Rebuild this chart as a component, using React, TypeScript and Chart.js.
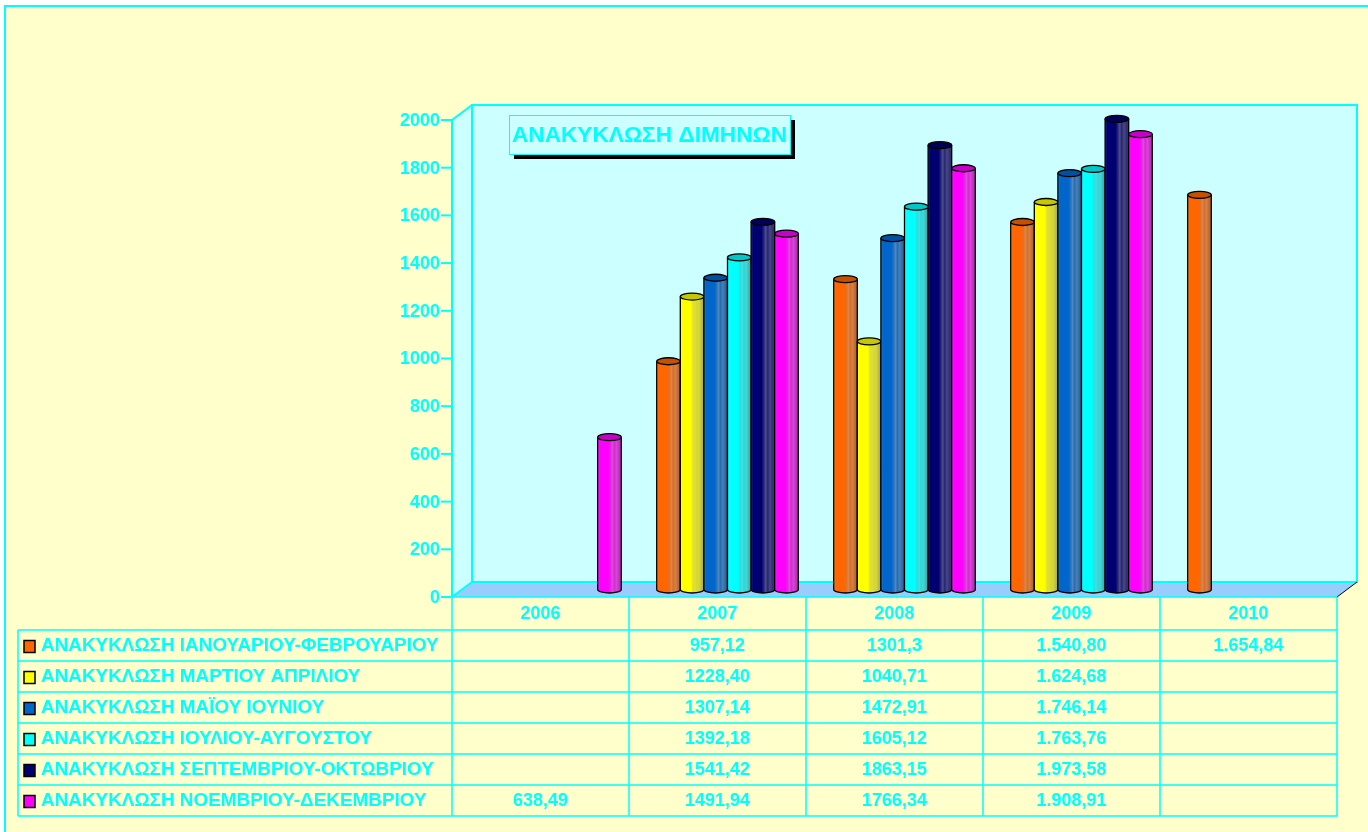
import { useEffect, useRef } from "react";
import { Chart, registerables } from "chart.js";

Chart.register(...registerables);

// ---------- data ----------
const years = ["2006", "2007", "2008", "2009", "2010"];

const seriesNames = [
  "ΑΝΑΚΥΚΛΩΣΗ ΙΑΝΟΥΑΡΙΟΥ-ΦΕΒΡΟΥΑΡΙΟΥ",
  "ΑΝΑΚΥΚΛΩΣΗ ΜΑΡΤΙΟΥ ΑΠΡΙΛΙΟΥ",
  "ΑΝΑΚΥΚΛΩΣΗ ΜΑΪΟΥ ΙΟΥΝΙΟΥ",
  "ΑΝΑΚΥΚΛΩΣΗ ΙΟΥΛΙΟΥ-ΑΥΓΟΥΣΤΟΥ",
  "ΑΝΑΚΥΚΛΩΣΗ ΣΕΠΤΕΜΒΡΙΟΥ-ΟΚΤΩΒΡΙΟΥ",
  "ΑΝΑΚΥΚΛΩΣΗ ΝΟΕΜΒΡΙΟΥ-ΔΕΚΕΜΒΡΙΟΥ",
];

const janFeb = [null, 957.12, 1301.3, 1540.8, 1654.84];
const marApr = [null, 1228.4, 1040.71, 1624.68, null];
const mayJun = [null, 1307.14, 1472.91, 1746.14, null];
const julAug = [null, 1392.18, 1605.12, 1763.76, null];
const sepOct = [null, 1541.42, 1863.15, 1973.58, null];
const novDec = [638.49, 1491.94, 1766.34, 1908.91, null];

const janFebText = ["", "957,12", "1301,3", "1.540,80", "1.654,84"];
const marAprText = ["", "1228,40", "1040,71", "1.624,68", ""];
const mayJunText = ["", "1307,14", "1472,91", "1.746,14", ""];
const julAugText = ["", "1392,18", "1605,12", "1.763,76", ""];
const sepOctText = ["", "1541,42", "1863,15", "1.973,58", ""];
const novDecText = ["638,49", "1491,94", "1766,34", "1.908,91", ""];

const yTickValues = [0, 200, 400, 600, 800, 1000, 1200, 1400, 1600, 1800, 2000];
const chartTitle = "ΑΝΑΚΥΚΛΩΣΗ ΔΙΜΗΝΩΝ";

const seriesValues = [janFeb, marApr, mayJun, julAug, sepOct, novDec];
const seriesTexts = [janFebText, marAprText, mayJunText, julAugText, sepOctText, novDecText];
const seriesColors = ["#FF6600", "#FFFF00", "#0066CC", "#00FFFF", "#000070", "#FF00FF"];

// ---------- style ----------
const CYAN = "#00FFFF";
const WALL = "#CCFFFF";
const FLOOR = "#99CCFF";
const PAGE = "#FFFFCC";
const FONT = 'bold 18px "Liberation Sans", Arial, sans-serif';
const TITLE_FONT = 'bold 22px "Liberation Sans", Arial, sans-serif';
const DX = 20;
const DY = -15;
const LABEL_STRETCH = 1.05;
const TITLE_STRETCH = 1.03;

function hexToRgb(h: string) {
  const n = parseInt(h.slice(1), 16);
  return [(n >> 16) & 255, (n >> 8) & 255, n & 255];
}
function mix(a: string, b: string, t: number) {
  const A = hexToRgb(a);
  const B = hexToRgb(b);
  const c = A.map((v, i) => Math.round(v * (1 - t) + B[i] * t));
  return `rgb(${c[0]},${c[1]},${c[2]})`;
}

function stretchedText(ctx: CanvasRenderingContext2D, text: string, x: number, y: number, sx: number) {
  ctx.save();
  ctx.translate(x, y);
  ctx.scale(sx, 1);
  ctx.fillText(text, 0, 0);
  ctx.restore();
}

function drawCylinder(ctx: CanvasRenderingContext2D, cx: number, top: number, bottom: number, w: number, color: string) {
  const x0 = cx - w / 2;
  const x1 = cx + w / 2;
  const rx = w / 2;
  const ry = 3.5;
  const g = ctx.createLinearGradient(x0, 0, x1, 0);
  g.addColorStop(0, mix(color, "#FFFFFF", 0.12));
  g.addColorStop(0.1, color);
  g.addColorStop(0.45, color);
  g.addColorStop(0.55, mix(color, "#909090", 0.3));
  g.addColorStop(0.62, mix(color, "#B0B0B0", 0.45));
  g.addColorStop(0.7, mix(color, "#808080", 0.3));
  g.addColorStop(0.8, mix(color, "#A0A0A0", 0.45));
  g.addColorStop(0.9, mix(color, "#707070", 0.45));
  g.addColorStop(1, mix(color, "#606060", 0.55));
  ctx.save();
  ctx.beginPath();
  ctx.moveTo(x0, top);
  ctx.lineTo(x0, bottom);
  ctx.ellipse(cx, bottom, rx, ry, 0, Math.PI, 0, true);
  ctx.lineTo(x1, top);
  ctx.closePath();
  ctx.fillStyle = g;
  ctx.fill();
  ctx.strokeStyle = "#000000";
  ctx.lineWidth = 1.3;
  ctx.beginPath();
  ctx.moveTo(x0, top);
  ctx.lineTo(x0, bottom);
  ctx.ellipse(cx, bottom, rx, ry, 0, Math.PI, 0, true);
  ctx.lineTo(x1, top);
  ctx.stroke();
  ctx.beginPath();
  ctx.ellipse(cx, top, rx, ry, 0, 0, Math.PI * 2);
  ctx.fillStyle = mix(color, "#000000", 0.22);
  ctx.fill();
  ctx.stroke();
  ctx.restore();
}

const threeDPlugin = {
  id: "threeD",
  beforeDraw(chart: any) {
    const { ctx, chartArea: a, scales } = chart;
    const y = scales.y;
    const W = chart.width;
    const H = chart.height;
    ctx.save();
    ctx.fillStyle = "#FFFFFF";
    ctx.fillRect(0, 0, W, H);
    ctx.fillStyle = PAGE;
    ctx.fillRect(4, 5, W, H);
    ctx.strokeStyle = CYAN;
    ctx.lineWidth = 2;
    ctx.strokeRect(5, 6, W + 20, H + 20);

    const l = a.left;
    const r = a.right;
    const t = y.getPixelForValue(yTickValues[yTickValues.length - 1]);
    const b = y.getPixelForValue(0);

    // side wall
    ctx.fillStyle = WALL;
    ctx.beginPath();
    ctx.moveTo(l, b);
    ctx.lineTo(l, t);
    ctx.lineTo(l + DX, t + DY);
    ctx.lineTo(l + DX, b + DY);
    ctx.closePath();
    ctx.fill();
    // back wall
    ctx.fillRect(l + DX, t + DY, r - l, b - t);
    // floor
    ctx.fillStyle = FLOOR;
    ctx.beginPath();
    ctx.moveTo(l, b);
    ctx.lineTo(l + DX, b + DY);
    ctx.lineTo(r + DX, b + DY);
    ctx.lineTo(r, b);
    ctx.closePath();
    ctx.fill();

    ctx.strokeStyle = CYAN;
    ctx.lineWidth = 2;
    ctx.strokeRect(l + DX, t + DY, r - l, b - t);
    ctx.beginPath();
    ctx.moveTo(l, b);
    ctx.lineTo(l, t);
    ctx.lineTo(l + DX, t + DY);
    ctx.moveTo(l, b);
    ctx.lineTo(l + DX, b + DY);
    ctx.stroke();
    ctx.strokeStyle = "#000000";
    ctx.lineWidth = 1;
    ctx.beginPath();
    ctx.moveTo(r, b);
    ctx.lineTo(r + DX, b + DY);
    ctx.stroke();

    // y ticks
    ctx.strokeStyle = CYAN;
    ctx.lineWidth = 2;
    ctx.fillStyle = CYAN;
    ctx.font = FONT;
    ctx.textAlign = "right";
    ctx.textBaseline = "middle";
    for (const v of yTickValues) {
      const py = y.getPixelForValue(v);
      ctx.beginPath();
      ctx.moveTo(l - 11, py);
      ctx.lineTo(l, py);
      ctx.stroke();
      ctx.fillText(String(v), l - 12, py + 1);
    }
    ctx.restore();
  },
  afterDatasetsDraw(chart: any) {
    const { ctx } = chart;
    const n = chart.data.labels.length;
    for (let i = 0; i < n; i++) {
      chart.data.datasets.forEach((ds: any, di: number) => {
        if (ds.data[i] == null) return;
        const el = chart.getDatasetMeta(di).data[i];
        if (!el) return;
        drawCylinder(ctx, el.x + DX / 2, el.y + DY / 2, el.base + DY / 2, el.width, seriesColors[di]);
      });
    }
  },
  afterDraw(chart: any) {
    const { ctx, chartArea: a, scales } = chart;
    const x = scales.x;
    const n = years.length;
    const colW = (a.right - a.left) / n;
    const b = a.bottom;
    const headH = 33;
    const rowH = 31;
    const rowsTop = b + headH;
    const tableLeft = 18;
    const tableBottom = rowsTop + rowH * seriesNames.length;
    ctx.save();
    ctx.strokeStyle = CYAN;
    ctx.lineWidth = 1.5;
    ctx.beginPath();
    for (let i = 0; i <= n; i++) {
      const px = a.left + colW * i;
      ctx.moveTo(px, b);
      ctx.lineTo(px, tableBottom);
    }
    ctx.moveTo(a.left, b);
    ctx.lineTo(a.right, b);
    ctx.moveTo(tableLeft, rowsTop);
    ctx.lineTo(tableLeft, tableBottom);
    for (let r = 0; r <= seriesNames.length; r++) {
      const py = rowsTop + rowH * r;
      ctx.moveTo(tableLeft, py);
      ctx.lineTo(a.right, py);
    }
    ctx.stroke();

    ctx.font = FONT;
    ctx.fillStyle = CYAN;
    ctx.textBaseline = "middle";
    ctx.textAlign = "center";
    years.forEach((yr, i) => {
      ctx.fillText(yr, x.getPixelForValue(i), b + headH / 2 + 1);
    });
    seriesNames.forEach((name, r) => {
      const cy = rowsTop + rowH * r + rowH / 2 + 1;
      ctx.fillStyle = seriesColors[r];
      ctx.fillRect(24, cy - 6, 11, 12);
      ctx.strokeStyle = "#000000";
      ctx.lineWidth = 1.5;
      ctx.strokeRect(24, cy - 6, 11, 12);
      ctx.fillStyle = CYAN;
      ctx.textAlign = "left";
      stretchedText(ctx, name, 41, cy, LABEL_STRETCH);
      ctx.textAlign = "center";
      seriesTexts[r].forEach((txt, i) => {
        if (txt) ctx.fillText(txt, x.getPixelForValue(i), cy);
      });
    });

    // title box
    ctx.font = TITLE_FONT;
    const bx = 509;
    const by = 115;
    const bw = 281;
    const bh = 39;
    ctx.fillStyle = "#000000";
    ctx.fillRect(bx + 5, by + 5, bw, bh);
    ctx.fillStyle = WALL;
    ctx.fillRect(bx, by, bw, bh);
    ctx.strokeStyle = CYAN;
    ctx.lineWidth = 1;
    ctx.strokeRect(bx + 0.5, by + 0.5, bw, bh);
    ctx.fillStyle = CYAN;
    ctx.textAlign = "center";
    stretchedText(ctx, chartTitle, bx + bw / 2, by + bh / 2 + 1, TITLE_STRETCH);
    ctx.restore();
  },
};

export default function App() {
  const ref = useRef<HTMLCanvasElement | null>(null);
  useEffect(() => {
    if (!ref.current) return;
    const chart = new Chart(ref.current, {
      type: "bar",
      data: {
        labels: years,
        datasets: seriesNames.map((name, i) => ({
          label: name,
          data: seriesValues[i],
          backgroundColor: "rgba(0,0,0,0)",
          borderWidth: 0,
          categoryPercentage: 0.8,
          barPercentage: 1,
        })),
      },
      options: {
        animation: false,
        responsive: false,
        maintainAspectRatio: false,
        events: [],
        layout: { padding: { left: 452, top: 120, right: 1368 - 1337, bottom: 832 - 597 } },
        plugins: {
          legend: { display: false },
          tooltip: { enabled: false },
          title: { display: false },
        },
        scales: {
          x: { display: false, offset: true },
          y: { display: false, min: 0, max: 2000 },
        },
      },
      plugins: [threeDPlugin],
    } as any);
    return () => chart.destroy();
  }, []);
  return (
    <div style={{ position: "absolute", left: 0, top: 0, width: 1368, height: 832 }}>
      <canvas ref={ref} width={1368} height={832} style={{ display: "block" }} />
    </div>
  );
}
